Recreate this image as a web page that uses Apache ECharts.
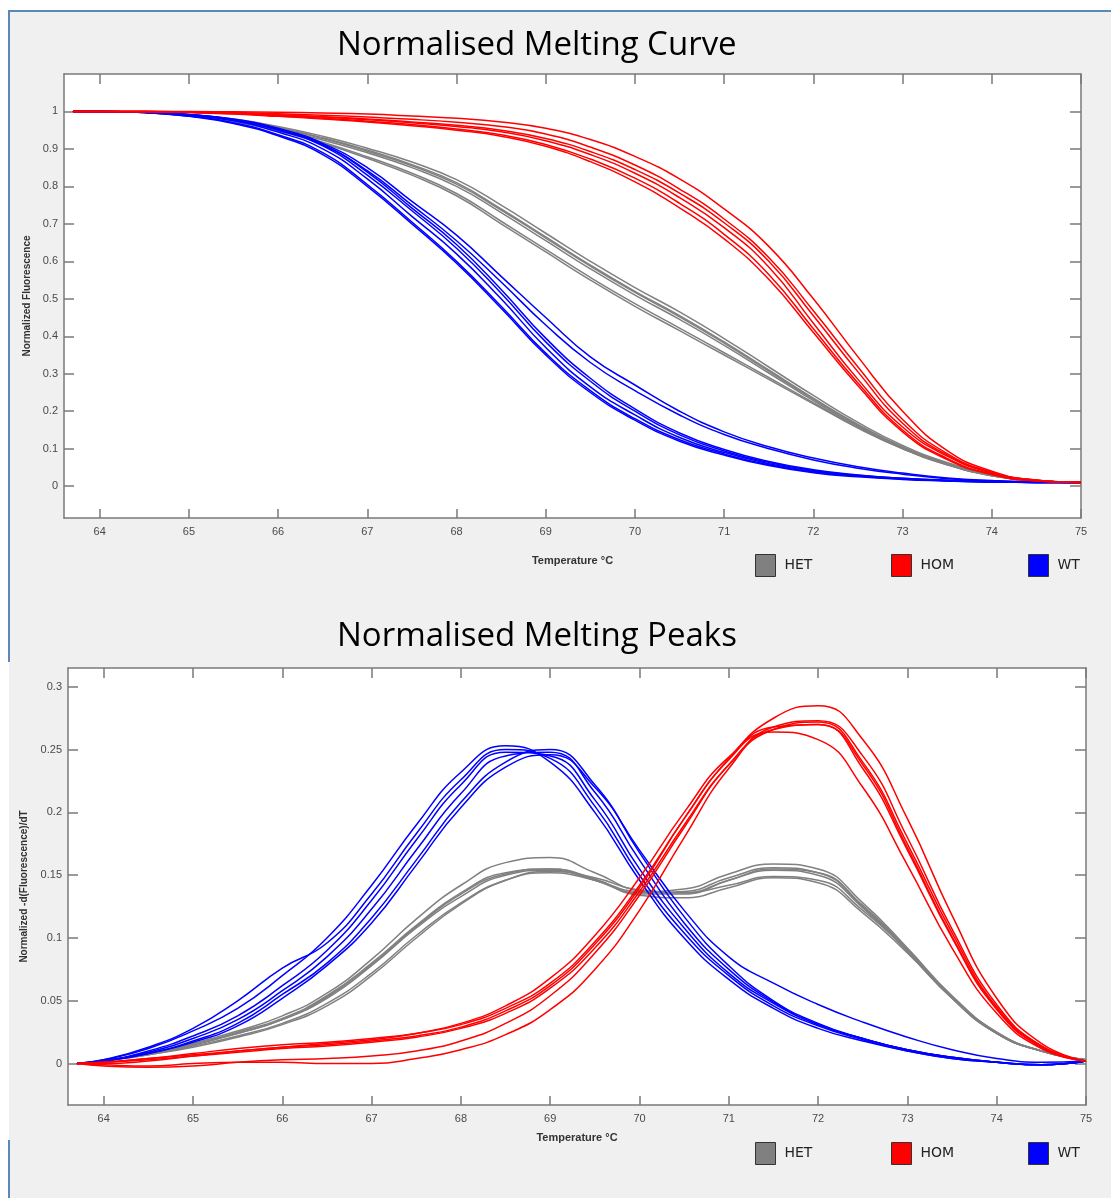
<!DOCTYPE html>
<html>
<head>
<meta charset="utf-8">
<script src="https://cdn.jsdelivr.net/npm/echarts@6/dist/echarts.min.js"></script>
<style>
  html, body { margin: 0; padding: 0; background: #fff; }
  #main { width: 1111px; height: 1198px; }
</style>
</head>
<body>
<div id="main"></div>
<script>
// temperature steps in °C, shared by every curve
var temps = [63.7, 64, 64.5, 65, 65.5, 66, 66.5, 67, 67.5, 68, 68.5, 69, 69.5, 70, 70.5, 71, 71.5, 72, 72.5, 73, 73.5, 74, 74.5, 75];

var xTicks = [64, 65, 66, 67, 68, 69, 70, 71, 72, 73, 74, 75];
var curveTicks = [0, 0.1, 0.2, 0.3, 0.4, 0.5, 0.6, 0.7, 0.8, 0.9, 1];
var peakTicks = [0, 0.05, 0.1, 0.15, 0.2, 0.25, 0.3];

// normalised melting curves
var het1 = [1, 1, 0.998, 0.99, 0.978, 0.957, 0.93, 0.897, 0.858, 0.81, 0.74, 0.665, 0.59, 0.52, 0.455, 0.385, 0.31, 0.235, 0.165, 0.105, 0.06, 0.03, 0.015, 0.01];
var het2 = [1, 1, 0.997, 0.988, 0.975, 0.952, 0.924, 0.89, 0.85, 0.8, 0.73, 0.655, 0.58, 0.51, 0.445, 0.376, 0.302, 0.228, 0.16, 0.1, 0.057, 0.028, 0.014, 0.01];
var het3 = [1, 1, 0.998, 0.991, 0.98, 0.96, 0.934, 0.902, 0.865, 0.818, 0.75, 0.675, 0.6, 0.53, 0.465, 0.394, 0.318, 0.242, 0.17, 0.109, 0.063, 0.032, 0.016, 0.01];
var het4 = [1, 1, 0.998, 0.99, 0.977, 0.955, 0.928, 0.894, 0.855, 0.806, 0.737, 0.662, 0.587, 0.517, 0.452, 0.382, 0.307, 0.232, 0.163, 0.103, 0.059, 0.029, 0.015, 0.01];
var het5 = [1, 1, 0.997, 0.988, 0.973, 0.948, 0.915, 0.875, 0.83, 0.775, 0.7, 0.625, 0.55, 0.48, 0.415, 0.35, 0.285, 0.22, 0.155, 0.1, 0.057, 0.028, 0.014, 0.01];
var het6 = [1, 1, 0.997, 0.989, 0.974, 0.95, 0.918, 0.879, 0.835, 0.781, 0.707, 0.632, 0.557, 0.487, 0.422, 0.356, 0.29, 0.223, 0.157, 0.101, 0.058, 0.028, 0.014, 0.01];

var hom1 = [1, 1, 1, 0.998, 0.995, 0.99, 0.985, 0.978, 0.97, 0.96, 0.946, 0.922, 0.885, 0.835, 0.77, 0.69, 0.585, 0.435, 0.285, 0.158, 0.08, 0.035, 0.015, 0.01];
var hom2 = [1, 1, 1, 0.998, 0.994, 0.988, 0.982, 0.974, 0.965, 0.953, 0.938, 0.912, 0.873, 0.822, 0.755, 0.672, 0.565, 0.42, 0.275, 0.15, 0.074, 0.032, 0.014, 0.01];
var hom3 = [1, 1, 1, 0.998, 0.995, 0.991, 0.986, 0.98, 0.972, 0.963, 0.95, 0.928, 0.893, 0.845, 0.782, 0.703, 0.6, 0.455, 0.305, 0.168, 0.083, 0.036, 0.016, 0.01];
var hom4 = [1, 1, 1, 0.997, 0.993, 0.987, 0.98, 0.972, 0.962, 0.95, 0.934, 0.907, 0.866, 0.812, 0.743, 0.66, 0.552, 0.41, 0.268, 0.145, 0.071, 0.031, 0.014, 0.01];
var hom5 = [1, 1, 1, 1, 0.999, 0.998, 0.996, 0.993, 0.988, 0.982, 0.972, 0.955, 0.925, 0.88, 0.82, 0.74, 0.64, 0.5, 0.345, 0.2, 0.095, 0.04, 0.016, 0.01];
var hom6 = [1, 1, 1, 0.999, 0.997, 0.994, 0.99, 0.985, 0.979, 0.971, 0.96, 0.94, 0.905, 0.857, 0.793, 0.713, 0.61, 0.468, 0.318, 0.178, 0.087, 0.037, 0.016, 0.01];

var wt1 = [1, 1, 0.998, 0.99, 0.975, 0.945, 0.9, 0.82, 0.72, 0.62, 0.5, 0.37, 0.265, 0.19, 0.13, 0.09, 0.06, 0.04, 0.028, 0.02, 0.015, 0.012, 0.01, 0.01];
var wt2 = [1, 1, 0.997, 0.988, 0.97, 0.938, 0.89, 0.805, 0.705, 0.6, 0.48, 0.355, 0.255, 0.18, 0.124, 0.086, 0.057, 0.038, 0.027, 0.019, 0.014, 0.011, 0.01, 0.01];
var wt3 = [1, 1, 0.998, 0.991, 0.977, 0.95, 0.908, 0.83, 0.735, 0.635, 0.515, 0.385, 0.28, 0.2, 0.137, 0.094, 0.063, 0.042, 0.029, 0.021, 0.015, 0.012, 0.01, 0.01];
var wt4 = [1, 1, 0.997, 0.987, 0.968, 0.935, 0.885, 0.8, 0.7, 0.595, 0.475, 0.35, 0.25, 0.176, 0.12, 0.083, 0.055, 0.036, 0.025, 0.018, 0.014, 0.011, 0.01, 0.01];
var wt5 = [1, 1, 0.998, 0.992, 0.978, 0.952, 0.912, 0.838, 0.742, 0.645, 0.525, 0.395, 0.288, 0.206, 0.142, 0.098, 0.066, 0.044, 0.03, 0.021, 0.016, 0.012, 0.01, 0.01];
var wt6 = [1, 1, 0.998, 0.992, 0.98, 0.955, 0.915, 0.85, 0.76, 0.67, 0.56, 0.45, 0.345, 0.27, 0.2, 0.145, 0.105, 0.075, 0.052, 0.035, 0.022, 0.015, 0.011, 0.01];
var wt7 = [1, 1, 0.998, 0.991, 0.978, 0.952, 0.91, 0.842, 0.75, 0.655, 0.545, 0.43, 0.33, 0.255, 0.19, 0.138, 0.1, 0.07, 0.048, 0.032, 0.02, 0.014, 0.011, 0.01];

// normalised melting peaks, -d(F)/dT
var hetP1 = [0, 0.002, 0.008, 0.015, 0.024, 0.035, 0.052, 0.078, 0.108, 0.133, 0.15, 0.154, 0.146, 0.136, 0.137, 0.148, 0.156, 0.152, 0.125, 0.09, 0.052, 0.024, 0.01, 0.003];
var hetP2 = [0, 0.002, 0.008, 0.016, 0.026, 0.038, 0.056, 0.083, 0.115, 0.142, 0.16, 0.164, 0.152, 0.138, 0.136, 0.146, 0.154, 0.15, 0.124, 0.089, 0.052, 0.024, 0.01, 0.003];
var hetP3 = [0, 0.002, 0.007, 0.014, 0.022, 0.032, 0.048, 0.072, 0.102, 0.128, 0.146, 0.152, 0.146, 0.137, 0.139, 0.151, 0.159, 0.155, 0.128, 0.092, 0.054, 0.025, 0.01, 0.003];
var hetP4 = [0, 0.002, 0.008, 0.015, 0.025, 0.036, 0.054, 0.08, 0.11, 0.136, 0.152, 0.155, 0.147, 0.135, 0.135, 0.146, 0.155, 0.152, 0.126, 0.091, 0.053, 0.024, 0.01, 0.003];
var hetP5 = [0, 0.002, 0.008, 0.015, 0.024, 0.035, 0.053, 0.079, 0.109, 0.135, 0.151, 0.155, 0.146, 0.134, 0.132, 0.14, 0.148, 0.144, 0.12, 0.088, 0.052, 0.024, 0.01, 0.003];
var hetP6 = [0, 0.002, 0.007, 0.013, 0.021, 0.031, 0.046, 0.07, 0.1, 0.127, 0.146, 0.153, 0.148, 0.138, 0.136, 0.142, 0.149, 0.146, 0.122, 0.09, 0.053, 0.025, 0.01, 0.003];

var homP1 = [0, 0.001, 0.004, 0.007, 0.01, 0.013, 0.015, 0.018, 0.022, 0.029, 0.042, 0.062, 0.095, 0.14, 0.195, 0.242, 0.268, 0.27, 0.235, 0.17, 0.1, 0.043, 0.013, 0.002];
var homP2 = [0, 0.001, 0.004, 0.008, 0.012, 0.015, 0.017, 0.02, 0.024, 0.031, 0.044, 0.064, 0.097, 0.142, 0.195, 0.243, 0.275, 0.285, 0.258, 0.195, 0.118, 0.052, 0.016, 0.002];
var homP3 = [0, 0, 0.002, 0.006, 0.01, 0.013, 0.016, 0.019, 0.024, 0.032, 0.046, 0.068, 0.102, 0.148, 0.2, 0.244, 0.264, 0.258, 0.22, 0.158, 0.092, 0.04, 0.012, 0.002];
var homP4 = [0, 0.001, 0.003, 0.006, 0.009, 0.012, 0.014, 0.017, 0.021, 0.028, 0.04, 0.06, 0.092, 0.137, 0.19, 0.238, 0.266, 0.272, 0.24, 0.175, 0.104, 0.045, 0.014, 0.002];
var homP5 = [0, -0.002, -0.003, -0.002, 0.001, 0.003, 0.004, 0.006, 0.01, 0.018, 0.032, 0.054, 0.088, 0.134, 0.188, 0.238, 0.266, 0.27, 0.238, 0.172, 0.101, 0.044, 0.013, 0.002];
var homP6 = [0, -0.001, -0.002, 0, 0.001, 0.001, 0, 0, 0.004, 0.011, 0.023, 0.043, 0.075, 0.122, 0.18, 0.235, 0.268, 0.273, 0.245, 0.18, 0.107, 0.047, 0.014, 0.002];

var wtP1 = [0, 0.002, 0.01, 0.022, 0.038, 0.062, 0.09, 0.13, 0.178, 0.222, 0.248, 0.245, 0.21, 0.155, 0.108, 0.072, 0.048, 0.031, 0.02, 0.011, 0.005, 0.001, -0.001, 0.002];
var wtP2 = [0, 0.002, 0.008, 0.018, 0.032, 0.055, 0.08, 0.116, 0.162, 0.208, 0.24, 0.25, 0.222, 0.168, 0.117, 0.078, 0.05, 0.032, 0.02, 0.011, 0.005, 0.001, -0.001, 0.002];
var wtP3 = [0, 0.003, 0.012, 0.026, 0.044, 0.07, 0.1, 0.142, 0.19, 0.232, 0.253, 0.24, 0.2, 0.146, 0.1, 0.067, 0.044, 0.028, 0.018, 0.01, 0.004, 0.001, -0.001, 0.002];
var wtP4 = [0, 0.002, 0.009, 0.02, 0.035, 0.058, 0.085, 0.123, 0.17, 0.215, 0.245, 0.248, 0.216, 0.162, 0.112, 0.075, 0.049, 0.031, 0.02, 0.011, 0.005, 0.001, -0.001, 0.002];
var wtP5 = [0, 0.003, 0.013, 0.028, 0.05, 0.076, 0.096, 0.135, 0.183, 0.226, 0.25, 0.243, 0.205, 0.15, 0.104, 0.07, 0.046, 0.03, 0.019, 0.01, 0.004, 0.001, -0.001, 0.002];
var wtP6 = [0, 0.002, 0.008, 0.017, 0.03, 0.052, 0.078, 0.112, 0.158, 0.204, 0.236, 0.246, 0.22, 0.17, 0.122, 0.085, 0.064, 0.047, 0.033, 0.021, 0.011, 0.004, 0.001, 0.002];

var groupNames = ['HET', 'WT', 'HOM'];
var groupColors = ['#808080', '#0000ff', '#ff0000'];
var groupCurves = [[het1, het2, het3, het4, het5, het6], [wt1, wt2, wt3, wt4, wt5, wt6, wt7], [hom1, hom2, hom3, hom4, hom5, hom6]];
var groupPeaks = [[hetP1, hetP2, hetP3, hetP4, hetP5, hetP6], [wtP1, wtP2, wtP3, wtP4, wtP5, wtP6], [homP1, homP2, homP3, homP4, homP5, homP6]];

var series = [];
function addLines(sets, axisIndex) {
  for (var g = 0; g < sets.length; g++) {
    for (var k = 0; k < sets[g].length; k++) {
      var vals = sets[g][k];
      var pts = [];
      for (var i = 0; i < temps.length; i++) pts.push([temps[i], vals[i]]);
      series.push({
        name: groupNames[g],
        type: 'line',
        xAxisIndex: axisIndex,
        yAxisIndex: axisIndex,
        data: pts,
        smooth: 0.5,
        showSymbol: false,
        silent: true,
        color: groupColors[g],
        lineStyle: { width: 1.5, color: groupColors[g] },
        itemStyle: { color: groupColors[g] }
      });
    }
  }
}
addLines(groupCurves, 0);
addLines(groupPeaks, 2);

var tickFont = { fontFamily: 'Liberation Sans', fontSize: 11, color: '#4a4a4a' };
var axisLine = { show: true, onZero: false, lineStyle: { color: '#7a7a7a', width: 1.5 } };
var tickLine = { color: '#7a7a7a', width: 1.5 };

function xAxes(grid, nameGap) {
  return [
    {
      type: 'value', gridIndex: grid, position: 'bottom', min: 63.6, max: 75,
      name: 'Temperature °C', nameLocation: 'middle', nameGap: nameGap,
      nameTextStyle: { fontFamily: 'Liberation Sans', fontSize: 11, fontWeight: 'bold', color: '#333' },
      axisLine: axisLine,
      axisTick: { inside: true, length: 9, customValues: xTicks, lineStyle: tickLine },
      axisLabel: Object.assign({ customValues: xTicks, margin: 8 }, tickFont),
      splitLine: { show: false }
    },
    {
      type: 'value', gridIndex: grid, position: 'top', min: 63.6, max: 75,
      axisLine: axisLine,
      axisTick: { inside: true, length: 10, customValues: xTicks, lineStyle: tickLine },
      axisLabel: { show: false },
      splitLine: { show: false }
    }
  ];
}

function yAxes(grid, min, max, ticks, name, nameGap) {
  return [
    {
      type: 'value', gridIndex: grid, position: 'left', min: min, max: max,
      name: name, nameLocation: 'middle', nameGap: nameGap, nameRotate: 90,
      nameTextStyle: { fontFamily: 'Liberation Sans', fontSize: 10, fontWeight: 'bold', color: '#333' },
      axisLine: axisLine,
      axisTick: { inside: true, length: 10, customValues: ticks, lineStyle: tickLine },
      axisLabel: Object.assign({ customValues: ticks, margin: 6 }, tickFont),
      splitLine: { show: false }
    },
    {
      type: 'value', gridIndex: grid, position: 'right', min: min, max: max,
      axisLine: axisLine,
      axisTick: { inside: true, length: 11, customValues: ticks, lineStyle: tickLine },
      axisLabel: { show: false },
      splitLine: { show: false }
    }
  ];
}

function legendAt(name, left, top) {
  return {
    data: [name], left: left, top: top, orient: 'horizontal', padding: 0,
    icon: 'rect', itemWidth: 20, itemHeight: 22, selectedMode: false,
    itemStyle: { borderColor: '#333', borderWidth: 1 },
    textStyle: { fontFamily: 'DejaVu Sans', fontSize: 14, color: '#222', padding: [0, 0, 0, 4] }
  };
}

var myChart = echarts.init(document.getElementById('main'));

var option = {
  backgroundColor: '#ffffff',
  animation: false,
  graphic: [
    { type: 'rect', z: -100, silent: true, shape: { x: 9, y: 11, width: 1102, height: 1187 }, style: { fill: '#f0f0f0' } },
    { type: 'line', z: -99, silent: true, shape: { x1: 8, y1: 11, x2: 1111, y2: 11 }, style: { stroke: '#5b87bd', lineWidth: 2 } },
    { type: 'line', z: -99, silent: true, shape: { x1: 9, y1: 11, x2: 9, y2: 662 }, style: { stroke: '#5b87bd', lineWidth: 2 } },
    { type: 'line', z: -99, silent: true, shape: { x1: 9, y1: 1140, x2: 9, y2: 1198 }, style: { stroke: '#5b87bd', lineWidth: 2 } }
  ],
  title: [
    { text: 'Normalised Melting Curve', left: 337, top: 29, padding: 0, textStyle: { fontFamily: 'Open Sans', fontSize: 33, fontWeight: 'normal', color: '#000' } },
    { text: 'Normalised Melting Peaks', left: 337, top: 620, padding: 0, textStyle: { fontFamily: 'Open Sans', fontSize: 33, fontWeight: 'normal', color: '#000' } }
  ],
  legend: [
    legendAt('HET', 755, 554), legendAt('HOM', 891, 554), legendAt('WT', 1028, 554),
    legendAt('HET', 755, 1142), legendAt('HOM', 891, 1142), legendAt('WT', 1028, 1142)
  ],
  grid: [
    { left: 64, top: 74, width: 1017, height: 444, show: true, backgroundColor: '#fff', borderWidth: 0 },
    { left: 68, top: 668, width: 1018, height: 437, show: true, backgroundColor: '#fff', borderWidth: 0 }
  ],
  xAxis: xAxes(0, 37).concat(xAxes(1, 27)),
  yAxis: yAxes(0, -0.085, 1.1, curveTicks, 'Normalized Fluorescence', 29)
    .concat(yAxes(1, -0.033, 0.315, peakTicks, 'Normalized -d(Fluorescence)/dT', 36)),
  series: series
};

myChart.setOption(option);
</script>
</body>
</html>
